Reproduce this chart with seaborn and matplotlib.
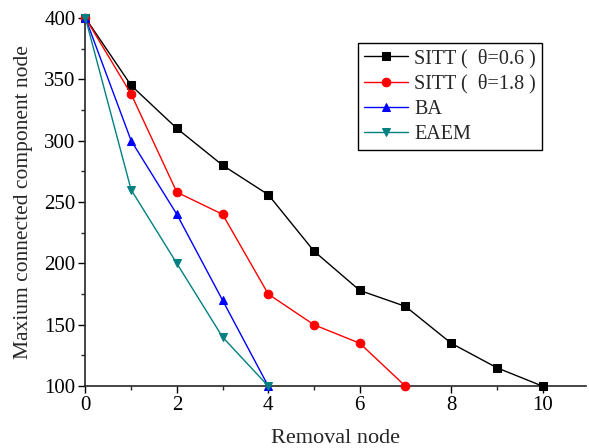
import matplotlib
matplotlib.use("Agg")
import matplotlib.pyplot as plt
import seaborn as sns
import pandas as pd
from matplotlib.ticker import MultipleLocator

sns.set_style("ticks")
plt.rcParams['font.family'] = ['Liberation Serif', 'DejaVu Serif']
plt.rcParams['mathtext.fontset'] = 'stix'

x_sitt06 = [0, 1, 2, 3, 4, 5, 6, 7, 8, 9, 10]
y_sitt06 = [400, 345, 310, 280, 256, 210, 178, 165, 135, 115, 100]
x_sitt18 = [0, 1, 2, 3, 4, 5, 6, 7]
y_sitt18 = [400, 338, 258, 240, 175, 150, 135, 100]
x_ba = [0, 1, 2, 3, 4]
y_ba = [400, 300, 240, 170, 100]
x_eaem = [0, 1, 2, 3, 4]
y_eaem = [400, 260, 200, 140, 100]

labels = ["SITT (  θ=0.6 )", "SITT (  θ=1.8 )", "BA", "EAEM"]
colors = ["black", "red", "blue", "#008080"]
markers = ["s", "o", "^", "v"]

fig = plt.figure(figsize=(5.89, 4.48), dpi=100)
ax = fig.add_axes([0.145, 0.138, 0.85, 0.822])

series = [(x_sitt06, y_sitt06), (x_sitt18, y_sitt18), (x_ba, y_ba), (x_eaem, y_eaem)]
for (xs, ys), lab, c, m in zip(series, labels, colors, markers):
    sns.lineplot(x=xs, y=ys, ax=ax, color=c, marker=m, markersize=6.2,
                 markeredgecolor=c, linewidth=1, label=lab, clip_on=False, zorder=3)

ax.set_xlim(0, 10.95)
ax.set_ylim(100, 400)
ax.xaxis.set_major_locator(MultipleLocator(2))
ax.xaxis.set_minor_locator(MultipleLocator(1))
ax.yaxis.set_major_locator(MultipleLocator(50))
ax.yaxis.set_minor_locator(MultipleLocator(25))
ax.tick_params(which='major', direction='out', length=5, width=1, labelsize=15, colors='black', pad=2)
ax.tick_params(which='minor', direction='out', length=3, width=1)
for s in ['top', 'right']:
    ax.spines[s].set_visible(False)
for s in ['left', 'bottom']:
    ax.spines[s].set_linewidth(1.2)
ax.set_xlabel("Removal node", fontsize=16, labelpad=10)
ax.set_ylabel("Maxium connected component node", fontsize=15.5, labelpad=8)

leg = ax.legend(loc='upper right', bbox_to_anchor=(0.9325, 0.96), fontsize=14.5, frameon=True,
                fancybox=False, edgecolor='black', framealpha=1, handlelength=2.2,
                borderpad=0.3, labelspacing=0.3, handletextpad=0.3)
leg.get_frame().set_linewidth(1)

fig.savefig("out.png", dpi=100)
